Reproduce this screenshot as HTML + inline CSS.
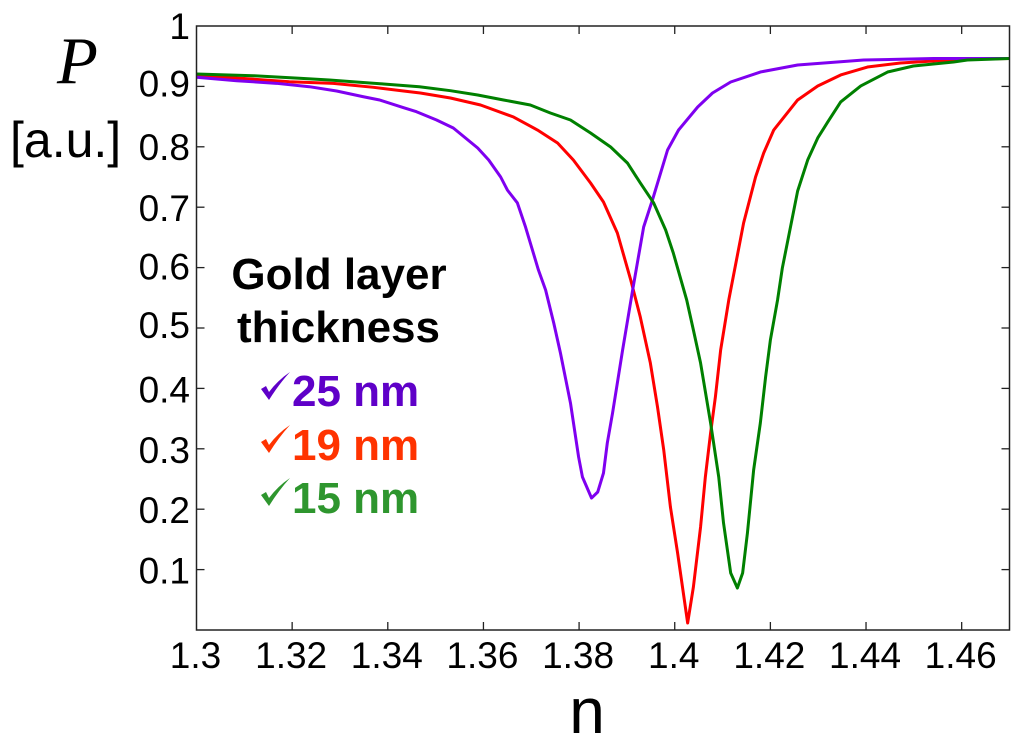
<!DOCTYPE html>
<html lang="en">
<head>
<meta charset="utf-8">
<title>Power versus refractive index for gold layer thicknesses</title>
<style>
html,body{margin:0;padding:0;background:#fff;width:1024px;height:747px;overflow:hidden}
svg{display:block}
text{font-family:"Liberation Sans",sans-serif;fill:#000}
</style>
</head>
<body>
<svg id="chart" xmlns="http://www.w3.org/2000/svg" width="1024" height="747" viewBox="0 0 1024 747">
  <rect x="0" y="0" width="1024" height="747" fill="#fff"/>
  <g id="marks"></g>
  <g id="axes"></g>
  <text x="57" y="83" font-size="67" font-style="italic" style="font-family:'Liberation Serif',serif">P</text>
  <text x="10" y="157" font-size="50">[a.u.]</text>
  <text x="587" y="733" font-size="64" text-anchor="middle">n</text>
  <g font-weight="bold">
    <text x="339" y="289" font-size="44" font-weight="bold" text-anchor="middle">Gold layer</text>
    <text x="338.5" y="342" font-size="44" font-weight="bold" text-anchor="middle">thickness</text>
    <path d="M261 389 L266 386 L269 392 Q278 380 290 372 Q279 384 269 400 Z" fill="#5f00c8"/>
    <text x="292" y="406" font-size="44" font-weight="bold" style="fill:#5f00c8">25 nm</text>
    <path d="M261 442 L266 439 L269 445 Q278 433 290 425 Q279 437 269 453 Z" fill="#ff3300"/>
    <text x="292" y="460" font-size="44" font-weight="bold" style="fill:#ff3300">19 nm</text>
    <path d="M261 495 L266 492 L269 498 Q278 486 290 478 Q279 490 269 506 Z" fill="#2e962e"/>
    <text x="292" y="513" font-size="44" font-weight="bold" style="fill:#2e962e">15 nm</text>
  </g>
</svg>
<script>
var xTickValues = [1.3, 1.32, 1.34, 1.36, 1.38, 1.4, 1.42, 1.44, 1.46];
var xTickLabels = ["1.3", "1.32", "1.34", "1.36", "1.38", "1.4", "1.42", "1.44", "1.46"];
var yTickValues = [0.1, 0.2, 0.3, 0.4, 0.5, 0.6, 0.7, 0.8, 0.9, 1];
var yTickLabels = ["0.1", "0.2", "0.3", "0.4", "0.5", "0.6", "0.7", "0.8", "0.9", "1"];

var n25 = [1.3, 1.3084, 1.3167, 1.3236, 1.3293, 1.3349, 1.3383, 1.3433, 1.346, 1.3502, 1.3537, 1.3588, 1.3611, 1.3636, 1.365, 1.3671, 1.3688, 1.3715, 1.373, 1.3747, 1.3761, 1.3782, 1.3799, 1.3807, 1.3826, 1.3839, 1.3851, 1.3859, 1.387, 1.388, 1.3891, 1.3912, 1.3924, 1.3935, 1.3954, 1.3985, 1.4008, 1.4048, 1.4079, 1.4117, 1.4179, 1.4257, 1.4395, 1.4541, 1.47];
var p25 = [0.9151, 0.9094, 0.9051, 0.8995, 0.8924, 0.8829, 0.8775, 0.8647, 0.8581, 0.8444, 0.8311, 0.798, 0.7781, 0.75, 0.7285, 0.707, 0.6672, 0.596, 0.5629, 0.5083, 0.4586, 0.3758, 0.2864, 0.2533, 0.2185, 0.2285, 0.2599, 0.3096, 0.3593, 0.4089, 0.4636, 0.5629, 0.6175, 0.6672, 0.7136, 0.7947, 0.8278, 0.8659, 0.8891, 0.9073, 0.9238, 0.9354, 0.9437, 0.9462, 0.9462];

var n19 = [1.3, 1.3084, 1.3194, 1.3286, 1.337, 1.3433, 1.3468, 1.3531, 1.3594, 1.3663, 1.3713, 1.3755, 1.3788, 1.3824, 1.3851, 1.388, 1.3908, 1.3928, 1.3949, 1.3964, 1.3977, 1.3991, 1.4006, 1.4027, 1.4039, 1.4054, 1.4064, 1.4075, 1.4085, 1.4096, 1.4113, 1.4144, 1.4169, 1.4186, 1.4207, 1.4257, 1.4299, 1.4347, 1.4403, 1.4472, 1.4541, 1.4612, 1.47];
var p19 = [0.9189, 0.9139, 0.9078, 0.9051, 0.8985, 0.8924, 0.8891, 0.8808, 0.8692, 0.8493, 0.8278, 0.8063, 0.7781, 0.7401, 0.7086, 0.6573, 0.5795, 0.5182, 0.4421, 0.3692, 0.298, 0.2036, 0.1275, 0.0116, 0.0712, 0.1705, 0.2533, 0.3262, 0.3858, 0.4636, 0.5464, 0.6738, 0.75, 0.7897, 0.8278, 0.8775, 0.9007, 0.9189, 0.9321, 0.9387, 0.9421, 0.9454, 0.9462];

var n15 = [1.3, 1.3119, 1.3215, 1.3278, 1.3341, 1.3391, 1.3466, 1.3531, 1.3588, 1.3642, 1.3698, 1.374, 1.3782, 1.3824, 1.3866, 1.3901, 1.3928, 1.3956, 1.3981, 1.3997, 1.4025, 1.4039, 1.4054, 1.4075, 1.4092, 1.4102, 1.4117, 1.4131, 1.4142, 1.4152, 1.4165, 1.4179, 1.419, 1.42, 1.4215, 1.4225, 1.4257, 1.4278, 1.4299, 1.432, 1.4347, 1.4389, 1.4445, 1.4499, 1.4583, 1.4612, 1.47];
var p15 = [0.9205, 0.9177, 0.9134, 0.9106, 0.9068, 0.904, 0.8995, 0.8929, 0.8858, 0.8775, 0.8692, 0.856, 0.8444, 0.8228, 0.7997, 0.7732, 0.7401, 0.707, 0.6623, 0.6242, 0.5464, 0.4967, 0.4421, 0.3427, 0.2533, 0.1772, 0.0944, 0.0695, 0.0944, 0.1606, 0.2649, 0.3427, 0.4189, 0.4801, 0.5464, 0.5993, 0.7268, 0.7781, 0.8146, 0.8411, 0.8742, 0.9007, 0.9238, 0.9338, 0.9404, 0.9437, 0.9462];

var NS = "http://www.w3.org/2000/svg";
var plotLeft = 196.5, plotRight = 1009.5, plotTop = 26, plotBottom = 630;
var xMin = 1.3, xMax = 1.47, yMin = 0, yMax = 1;
var tickLength = 8;
var yLabelBaseline = 13;
var yLabelNudge = {"0.9": -3, "0.7": 1, "0.6": -1, "0.5": -3, "0.4": 1, "0.3": 1, "0.2": 1, "0.1": 1};

function xScale(v) { return plotLeft + (v - xMin) / (xMax - xMin) * (plotRight - plotLeft); }
function yScale(v) { return plotBottom - (v - yMin) / (yMax - yMin) * (plotBottom - plotTop); }

var axes = document.getElementById("axes");
var marks = document.getElementById("marks");

function drawLine(x1, y1, x2, y2, stroke, width) {
  var l = document.createElementNS(NS, "line");
  l.setAttribute("x1", x1);
  l.setAttribute("y1", y1);
  l.setAttribute("x2", x2);
  l.setAttribute("y2", y2);
  l.setAttribute("stroke", stroke);
  l.setAttribute("stroke-width", width);
  axes.appendChild(l);
  return l;
}

function drawLabel(x, y, str, anchor) {
  var t = document.createElementNS(NS, "text");
  t.setAttribute("x", x);
  t.setAttribute("y", y);
  t.setAttribute("font-size", "37");
  t.setAttribute("text-anchor", anchor);
  t.textContent = str;
  axes.appendChild(t);
  return t;
}

function drawSeries(ns, ps, color, name) {
  var d = "";
  for (var i = 0; i < ns.length; i++) {
    d += (i ? "L" : "M") + xScale(ns[i]).toFixed(2) + " " + yScale(ps[i]).toFixed(2) + " ";
  }
  var p = document.createElementNS(NS, "path");
  p.setAttribute("d", d);
  p.setAttribute("fill", "none");
  p.setAttribute("stroke", color);
  p.setAttribute("stroke-width", "3");
  p.setAttribute("stroke-linejoin", "round");
  
  
  marks.appendChild(p);
}

drawSeries(n19, p19, "#ff0000", "series-19nm");
drawSeries(n25, p25, "#7f00f0", "series-25nm");
drawSeries(n15, p15, "#008000", "series-15nm");

var frame = document.createElementNS(NS, "rect");
frame.setAttribute("x", plotLeft);
frame.setAttribute("y", plotTop);
frame.setAttribute("width", plotRight - plotLeft);
frame.setAttribute("height", plotBottom - plotTop);
frame.setAttribute("fill", "none");
frame.setAttribute("stroke", "#222");
frame.setAttribute("stroke-width", "1.5");


axes.appendChild(frame);

xTickValues.forEach(function (v, i) {
  var x = xScale(v);
  if (i > 0) {
    var b = drawLine(x, plotBottom, x, plotBottom - tickLength, "#222", 1.3);
    
    
    var t = drawLine(x, plotTop, x, plotTop + tickLength, "#222", 1.3);
    
    
  }
  var lab = drawLabel(x - 1, 668, xTickLabels[i], "middle");
  
  
});

yTickValues.forEach(function (v, i) {
  var y = yScale(v);
  if (v < yMax) {
    var l = drawLine(plotLeft, y, plotLeft + tickLength, y, "#222", 1.3);
    
    
    var r = drawLine(plotRight, y, plotRight - tickLength, y, "#222", 1.3);
    
    
  }
  var lab = drawLabel(190, y + yLabelBaseline + (yLabelNudge[yTickLabels[i]] || 0), yTickLabels[i], "end");
  
  
});
</script>
</body>
</html>
